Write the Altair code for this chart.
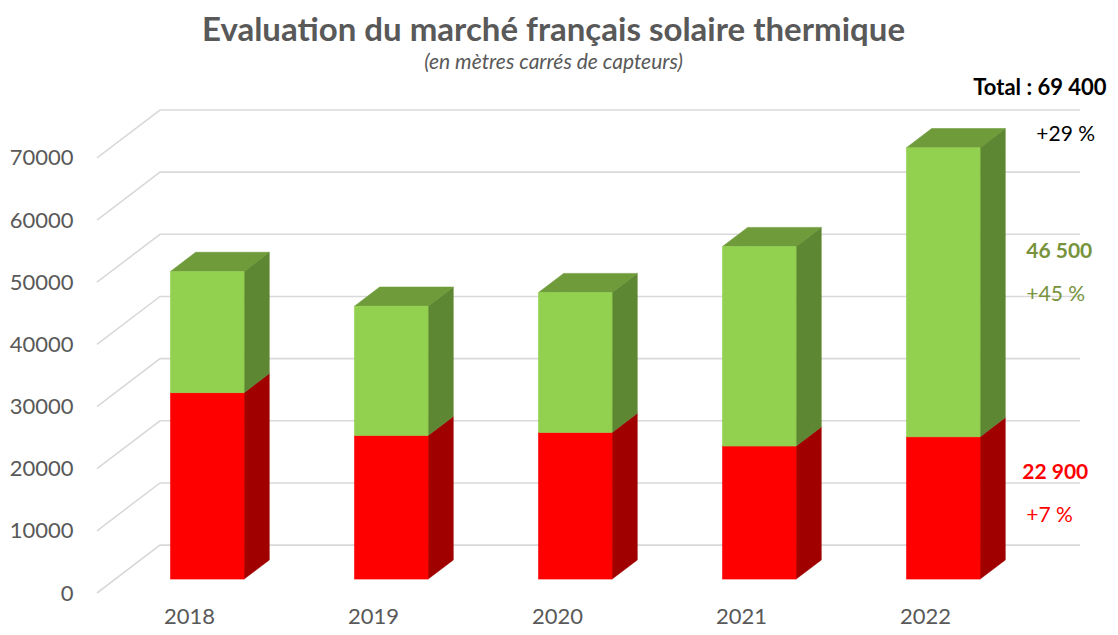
import altair as alt
import pandas as pd

# ---------------- data ----------------
years = ["2018", "2019", "2020", "2021", "2022"]
red_values = [30000, 23100, 23600, 21400, 22900]
green_values = [19500, 20800, 22500, 32100, 46500]
y_ticks = [0, 10000, 20000, 30000, 40000, 50000, 60000, 70000]

title_text = "Evaluation du marché français solaire thermique"
subtitle_text = "(en mètres carrés de capteurs)"
total_text = "Total : 69 400"
total_change = "+29 %"
green_text = "46 500"
green_change = "+45 %"
red_text = "22 900"
red_change = "+7 %"

# ---------------- 3D projection style ----------------
DX = 0.3424    # horizontal shift (category units) for full depth
DY = 7700      # vertical shift (value units) for full depth
D1, D2 = 0.29, 0.69   # bar front / back depth
HW = 0.2       # half bar width

RED, RED_SIDE = "#ff0000", "#a00000"
GREEN, GREEN_SIDE, GREEN_TOP = "#92d050", "#5e8733", "#6f9b3b"
OLIVE = "#77933c"
GREY = "#595959"
FONT = "Lato"

front_rows, face_rows = [], []
for i, (r, g) in enumerate(zip(red_values, green_values)):
    segs = [(0, r, RED, RED_SIDE), (r, r + g, GREEN, GREEN_SIDE)]
    for j, (lo, hi, cf, cs) in enumerate(segs):
        front_rows.append(dict(x=i - HW + D1 * DX, x2=i + HW + D1 * DX,
                               y=lo + D1 * DY, y2=hi + D1 * DY, c=cf))
        # side face (parallelogram)
        for d in (D1, D2):
            face_rows.append(dict(face=f"s{i}-{j}", x=i + HW + d * DX,
                                  y=lo + d * DY, y2=hi + d * DY, c=cs))
    # top face (parallelogram) as a vertical area through 4 points
    t = r + g
    yf, yb = t + D1 * DY, t + D2 * DY
    xl, xr = i - HW, i + HW
    for x, y0, y1 in [(xl + D1 * DX, yf, yf), (xl + D2 * DX, yf, yb),
                      (xr + D1 * DX, yf, yb), (xr + D2 * DX, yb, yb)]:
        face_rows.append(dict(face=f"t{i}", x=x, y=y0, y2=y1, c=GREEN_TOP))

n = len(years)
grid_rows = []
for v in y_ticks:
    pts = [(-0.5, v), (-0.5 + DX, v + DY), (n - 0.5 + DX, v + DY)]
    for k, (x, y) in enumerate(pts):
        grid_rows.append(dict(line=v, k=k, x=x, y=y))

label_expr = "[" + ",".join(f"'{y}'" for y in years) + "][datum.value]"

x_enc = alt.X("x:Q",
              scale=alt.Scale(domain=[-0.5, n - 0.5 + DX], nice=False, zero=False),
              axis=alt.Axis(values=list(range(n)), labelExpr=label_expr, title=None,
                            grid=False, domain=False, ticks=False, tickSize=0,
                            labelFont=FONT, labelFontSize=22, labelColor=GREY,
                            labelPadding=13, labelFlush=False, labelOverlap=False))
y_enc = alt.Y("y:Q", stack=None,
              scale=alt.Scale(domain=[0, y_ticks[-1] + DY], nice=False, zero=False),
              axis=alt.Axis(values=y_ticks, format="d", title=None, grid=False,
                            domain=False, ticks=False, tickSize=0, labelFont=FONT,
                            labelFontSize=22, labelColor=GREY, labelPadding=24,
                            labelFlush=False, labelOverlap=False))

grid = alt.Chart(pd.DataFrame(grid_rows)).mark_line(
    color="#d9d9d9", strokeWidth=1.6).encode(
    x=x_enc, y=y_enc, detail="line:N", order="k:Q")

faces = alt.Chart(pd.DataFrame(face_rows)).mark_area(
    orient="vertical", opacity=1, strokeWidth=0.6).encode(
    x=x_enc, y=y_enc, y2="y2:Q",
    color=alt.Color("c:N", scale=None), stroke=alt.Stroke("c:N", scale=None),
    detail="face:N")

front = alt.Chart(pd.DataFrame(front_rows)).mark_rect(strokeWidth=0.6).encode(
    x=x_enc, x2="x2:Q", y=y_enc, y2="y2:Q",
    color=alt.Color("c:N", scale=None), stroke=alt.Stroke("c:N", scale=None))

anchor_x = n - 1 + HW + D2 * DX
last_total = red_values[-1] + green_values[-1]
green_mid = red_values[-1] + green_values[-1] / 2
red_mid = red_values[-1] / 2


def label(text, value, color, bold, size, dx, dy):
    return alt.Chart(pd.DataFrame([dict(x=anchor_x, y=value, t=text)])).mark_text(
        align="left", baseline="middle", font=FONT, fontSize=size,
        fontWeight="bold" if bold else "normal", color=color, dx=dx, dy=dy
    ).encode(x=x_enc, y=y_enc, text="t:N")


labels = [
    label(total_text, last_total, "#000000", True, 22, -32, -74),
    label(total_change, last_total, "#000000", False, 21, 31, -27),
    label(green_text, green_mid, OLIVE, True, 21, 21, -54),
    label(green_change, green_mid, OLIVE, False, 21, 21, -11),
    label(red_text, red_mid, RED, True, 21, 17, -49),
    label(red_change, red_mid, RED, False, 21, 21, -6),
]

chart = alt.layer(grid, faces, front, *labels).properties(
    width=983, height=483,
    title=alt.TitleParams(
        text=title_text, subtitle=subtitle_text, anchor="middle",
        font=FONT, fontSize=33, fontWeight="bold", color=GREY,
        subtitleFont=FONT, subtitleFontSize=21, subtitleFontStyle="italic",
        subtitleColor=GREY, subtitlePadding=4, dx=-35, offset=4),
    padding={"left": 89, "top": 102, "right": 30, "bottom": 34},
    autosize=alt.AutoSizeParams(type="none"),
).configure_view(stroke=None)

chart.save("out.html", embed_options={"renderer": "svg", "actions": False})
